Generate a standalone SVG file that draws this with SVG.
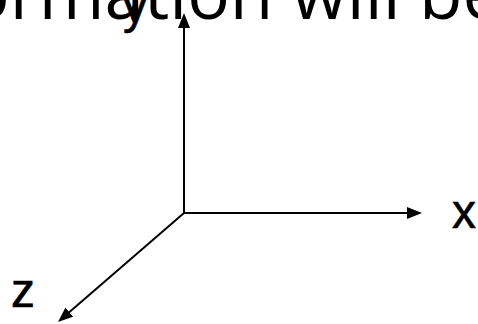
<svg xmlns="http://www.w3.org/2000/svg" width="478" height="324" viewBox="0 0 478 324">
  <style>
    .axis { stroke: #000; stroke-width: 2; fill: none; }
    .lbl { font-family: "Liberation Sans", Arial, sans-serif; font-size: 48px; fill: #000; stroke: #000; stroke-width: 0.6; }
    .title { font-family: "Open Sans", "Noto Sans", sans-serif; font-size: 71px; fill: #000; }
  </style>
  <defs>
    <marker id="arrow" markerUnits="userSpaceOnUse" markerWidth="15" markerHeight="12" refX="4" refY="6" orient="auto" viewBox="0 0 15 12">
      <path d="M0,0 L15,6 L0,12 z" fill="#000"/>
    </marker>
  </defs>
  <rect width="478" height="324" fill="#fff"/>
  <g id="title">
    <text class="title" x="-33" y="19">ormation will be</text>
  </g>
  <g id="connectors">
    <line class="axis" x1="184" y1="213" x2="184" y2="24" marker-end="url(#arrow)"/>
    <line class="axis" x1="184" y1="213" x2="411" y2="213" marker-end="url(#arrow)"/>
    <line class="axis" x1="184" y1="213" x2="66.3" y2="314.8" marker-end="url(#arrow)"/>
  </g>
  <g id="label-y">
    <text class="lbl" x="123" y="23">y</text>
  </g>
  <g id="label-x">
    <text class="lbl" x="452" y="228">x</text>
  </g>
  <g id="label-z">
    <text class="lbl" x="11" y="307">z</text>
  </g>
</svg>
